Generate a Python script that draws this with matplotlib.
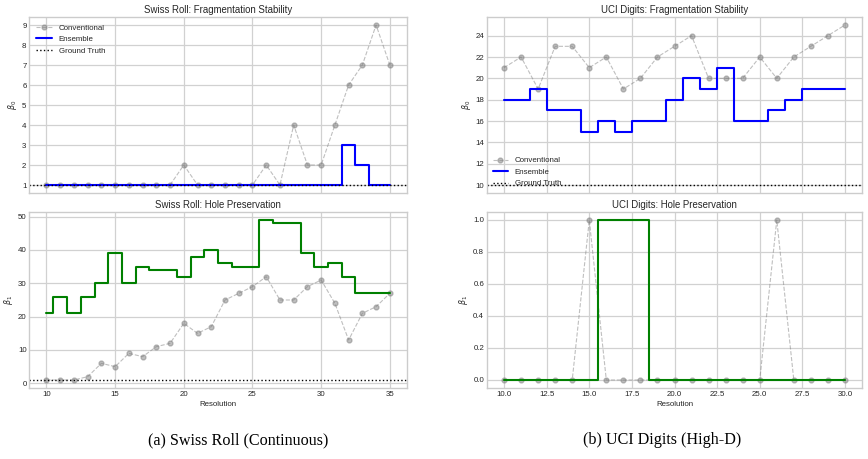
import matplotlib
matplotlib.use("Agg")
import matplotlib.pyplot as plt
import numpy as np

# ---------------- data ----------------
swiss_res = list(range(10, 36))
swiss_b0_conv = [1, 1, 1, 1, 1, 1, 1, 1, 1, 1, 2, 1, 1, 1, 1, 1, 2, 1, 4, 2, 2, 4, 6, 7, 9, 7]
swiss_b0_ens = [1, 1, 1, 1, 1, 1, 1, 1, 1, 1, 1, 1, 1, 1, 1, 1, 1, 1, 1, 1, 1, 1, 3, 2, 1, 1]
swiss_b0_true = 1
swiss_b1_conv = [1, 1, 1, 2, 6, 5, 9, 8, 11, 12, 18, 15, 17, 25, 27, 29, 32, 25, 25, 29, 31, 24, 13, 21, 23, 27]
swiss_b1_ens = [21, 26, 21, 26, 30, 39, 30, 35, 34, 34, 32, 38, 40, 36, 35, 35, 49, 48, 48, 39, 35, 36, 32, 27, 27, 27]
swiss_b1_true = 1

uci_res = list(range(10, 31))
uci_b0_conv = [21, 22, 19, 23, 23, 21, 22, 19, 20, 22, 23, 24, 20, 20, 20, 22, 20, 22, 23, 24, 25]
uci_b0_ens = [18, 18, 19, 17, 17, 15, 16, 15, 16, 16, 18, 20, 19, 21, 16, 16, 17, 18, 19, 19, 19]
uci_b0_true = 10
uci_b1_conv = [0, 0, 0, 0, 0, 1, 0, 0, 0, 0, 0, 0, 0, 0, 0, 0, 1, 0, 0, 0, 0]
uci_b1_ens = [0, 0, 0, 0, 0, 0, 1, 1, 1, 0, 0, 0, 0, 0, 0, 0, 0, 0, 0, 0, 0]

titles = ["Swiss Roll: Fragmentation Stability", "Swiss Roll: Hole Preservation",
          "UCI Digits: Fragmentation Stability", "UCI Digits: Hole Preservation"]
captions = ["(a) Swiss Roll (Continuous)", "(b) UCI Digits (High-D)"]

# ---------------- style ----------------
plt.style.use("seaborn-v0_8-whitegrid")
plt.rcParams["font.family"] = ["Liberation Sans", "DejaVu Sans"]
plt.rcParams["mathtext.fontset"] = "dejavusans"
FS = 5.7
TFS = 6.9

fig = plt.figure(figsize=(8.68, 4.59), dpi=100)
W, H = 868, 459

def ax_at(l, t, r, b):
    return fig.add_axes([l / W, 1 - b / H, (r - l) / W, (b - t) / H])

ax_tl = ax_at(29.3, 17, 407, 193)
ax_bl = ax_at(29.3, 212, 407, 388, ) if False else fig.add_axes([29.3 / W, 1 - 388 / H, (407 - 29.3) / W, (388 - 212) / H], sharex=ax_tl)
ax_tr = ax_at(487, 17, 862, 193)
ax_br = fig.add_axes([487 / W, 1 - 388 / H, (862 - 487) / W, (388 - 212) / H], sharex=ax_tr)

conv_kw = dict(color="gray", linestyle="--", marker="o", markersize=3.5, linewidth=0.8, alpha=0.5)

def style(ax, title, ylabel):
    ax.set_title(title, fontsize=TFS, pad=3)
    ax.set_ylabel(ylabel, fontsize=FS, labelpad=2)
    ax.tick_params(labelsize=FS, pad=2)
    for s in ax.spines.values():
        s.set_edgecolor("0.8")
        s.set_linewidth(1.0)
    ax.grid(True, color="0.82", linewidth=0.9)

# Swiss roll beta0
ax = ax_tl
ax.plot(swiss_res, swiss_b0_conv, label="Conventional", **conv_kw)
ax.step(swiss_res, swiss_b0_ens, where="mid", color="blue", linewidth=1.5, label="Ensemble")
ax.axhline(swiss_b0_true, color="black", linestyle=":", linewidth=1.0, label="Ground Truth")
ax.set_yticks(range(1, 10))
style(ax, titles[0], r"$\beta_0$")
ax.legend(loc="upper left", fontsize=FS, frameon=False)
plt.setp(ax.get_xticklabels(), visible=False)

# Swiss roll beta1
ax = ax_bl
ax.plot(swiss_res, swiss_b1_conv, **conv_kw)
ax.step(swiss_res, swiss_b1_ens, where="mid", color="green", linewidth=1.5)
ax.axhline(swiss_b1_true, color="black", linestyle=":", linewidth=1.0)
ax.set_xticks([10, 15, 20, 25, 30, 35])
style(ax, titles[1], r"$\beta_1$")
ax.set_xlabel("Resolution", fontsize=FS, labelpad=2)

# UCI beta0
ax = ax_tr
ax.plot(uci_res, uci_b0_conv, label="Conventional", **conv_kw)
ax.step(uci_res, uci_b0_ens, where="mid", color="blue", linewidth=1.5, label="Ensemble")
ax.axhline(uci_b0_true, color="black", linestyle=":", linewidth=1.0, label="Ground Truth")
ax.set_yticks(range(10, 25, 2))
style(ax, titles[2], r"$\beta_0$")
ax.legend(loc="lower left", fontsize=FS, frameon=False, borderaxespad=0.3)
plt.setp(ax.get_xticklabels(), visible=False)

# UCI beta1
ax = ax_br
ax.plot(uci_res, uci_b1_conv, **conv_kw)
ax.step(uci_res, uci_b1_ens, where="mid", color="green", linewidth=1.5)
ax.set_xticks(np.arange(10, 30.1, 2.5))
ax.set_xticklabels([f"{v:.1f}" for v in np.arange(10, 30.1, 2.5)])
ax.set_yticks(np.arange(0, 1.01, 0.2))
ax.set_yticklabels([f"{v:.1f}" for v in np.arange(0, 1.01, 0.2)])
style(ax, titles[3], r"$\beta_1$")
ax.set_xlabel("Resolution", fontsize=FS, labelpad=2)

# captions
fig.text(238 / W, 1 - 440 / H, captions[0], ha="center", va="center",
         fontsize=11.6, family=["Liberation Serif", "DejaVu Serif"], color="black")
fig.text(662 / W, 1 - 440 / H, captions[1], ha="center", va="center",
         fontsize=11.6, family=["Liberation Serif", "DejaVu Serif"], color="black")

fig.savefig("out.png", dpi=100)
